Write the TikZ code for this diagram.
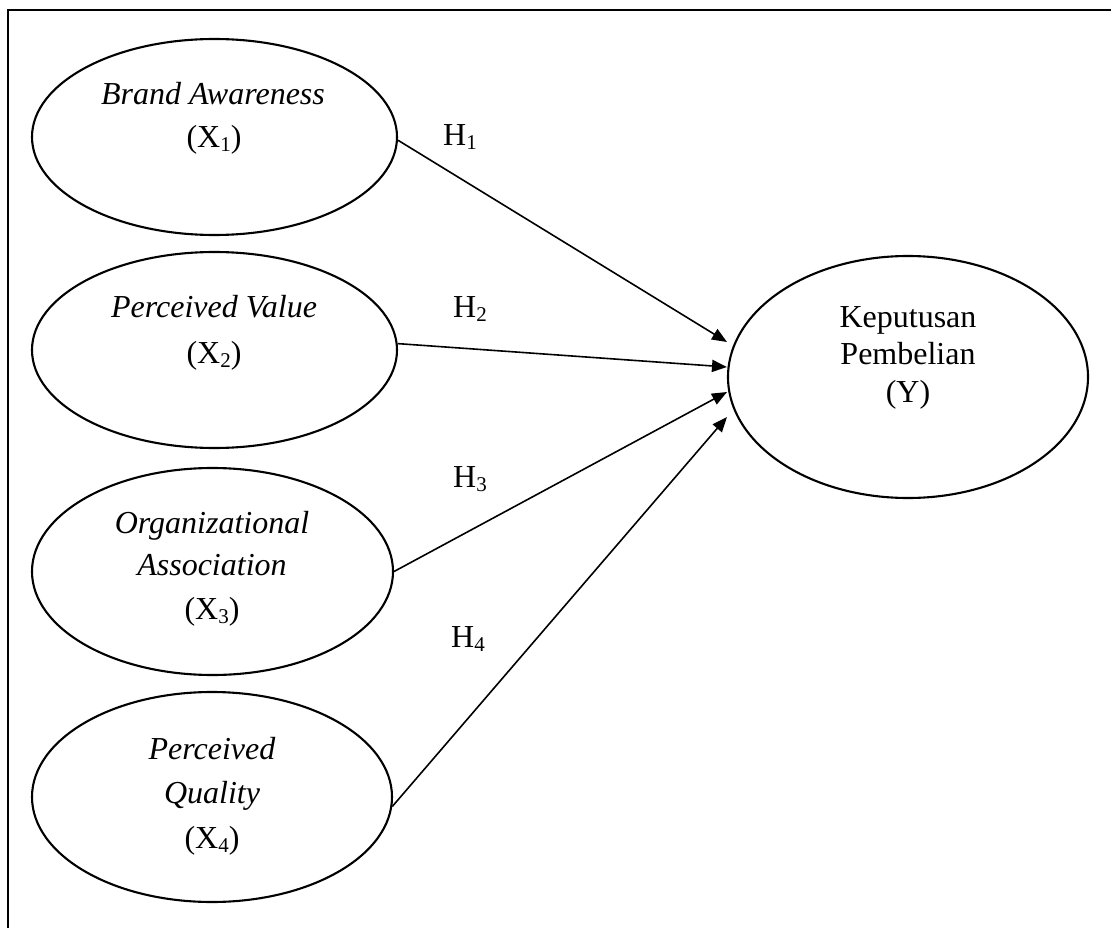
\documentclass[tikz,border=0pt]{standalone}
\usepackage{fontspec}
\setmainfont{Liberation Serif}
\usetikzlibrary{shapes.geometric,arrows.meta}
\newcommand{\sbs}[1]{\raisebox{-4pt}{\fontsize{21}{21}\selectfont #1}}
\tikzset{
  var/.style={draw, ellipse, line width=2.1pt, inner sep=0pt},
  txt/.style={anchor=base, inner sep=0pt, font=\fontsize{32}{38}\selectfont},
  itxt/.style={txt, font=\fontsize{32}{38}\selectfont\itshape},
  link/.style={line width=1.6pt, -{Triangle[length=15pt,width=12pt]}},
  frameline/.style={line width=2.4pt}
}
\begin{document}
\begin{tikzpicture}[x=1pt,y=-1pt]
\useasboundingbox (0,0) rectangle (1111,928);
% frame (cut off at right and bottom)
\coordinate (fc) at (8,10);
\coordinate (fr) at (1112,10);
\coordinate (fb) at (8,929);
\draw[frameline] (fr) -- (fc) -- (fb);

% ellipses
\node[var, minimum width=365pt, minimum height=196pt] (e1) at (214.5,137) {};
\node[var, minimum width=365pt, minimum height=196pt] (e2) at (214.5,350) {};
\node[var, minimum width=361pt, minimum height=207pt] (e3) at (212.5,571.5) {};
\node[var, minimum width=360pt, minimum height=210pt] (e4) at (212,797) {};
\node[var, minimum width=360pt, minimum height=242pt] (ey) at (908,377) {};

% texts
\node[itxt] (l1a) at (213,105) {Brand Awareness};
\node[txt] (l1b) at (214,148) {(X\sbs{1})};
\node[itxt] (l2a) at (214,317) {Perceived Value};
\node[txt] (l2b) at (214,363) {(X\sbs{2})};
\node[itxt] (l3a) at (212,533) {Organizational};
\node[itxt] (l3b) at (212,575) {Association};
\node[txt] (l3c) at (212,619) {(X\sbs{3})};
\node[itxt] (l4a) at (212,759) {Perceived};
\node[itxt] (l4b) at (212,803) {Quality};
\node[txt] (l4c) at (212,848) {(X\sbs{4})};
\node[txt] (lya) at (908,327) {Keputusan};
\node[txt] (lyb) at (908,364) {Pembelian};
\node[txt] (lyc) at (908,402) {(Y)};

% hypothesis labels
\node[txt, anchor=base west] (h1) at (443,146) {H\sbs{1}};
\node[txt, anchor=base west] (h2) at (453,317) {H\sbs{2}};
\node[txt, anchor=base west] (h3) at (453,487) {H\sbs{3}};
\node[txt, anchor=base west] (h4) at (451,647) {H\sbs{4}};

% arrow tips
\coordinate (t1) at (727,342);
\coordinate (t2) at (727,367);
\coordinate (t3) at (727,392);
\coordinate (t4) at (727,417);

\draw[link] (e1.-1.6) -- (t1);
\draw[link] (e2.2.2) -- (t2);
\draw[link] (e3.-0.5) -- (t3);
\draw[link] (e4.-3.2) -- (t4);
\end{tikzpicture}
\end{document}
